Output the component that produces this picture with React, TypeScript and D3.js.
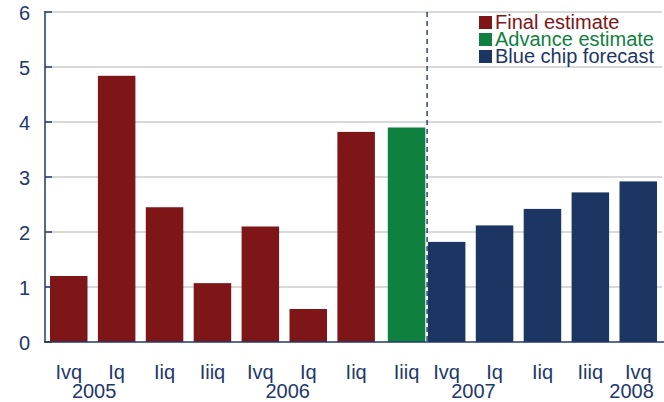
import React from "react";
import * as d3 from "d3";

const quarters = ["Ivq", "Iq", "Iiq", "Iiiq", "Ivq", "Iq", "Iiq", "Iiiq", "Ivq", "Iq", "Iiq", "Iiiq", "Ivq"];
const values = [1.2, 4.84, 2.45, 1.07, 2.1, 0.6, 3.82, 3.9, 1.82, 2.12, 2.42, 2.72, 2.92];
const seriesOf = ["final", "final", "final", "final", "final", "final", "final", "advance", "forecast", "forecast", "forecast", "forecast", "forecast"];
const seriesNames = ["Final estimate", "Advance estimate", "Blue chip forecast"];
const seriesKeys = ["final", "advance", "forecast"];
const seriesColors = ["#7E1517", "#10803F", "#1C3664"];
const years = ["2005", "2006", "2007", "2008"];
const yearPos = [0.53, 4.57, 8.56, 11.86];
const yTicks = [0, 1, 2, 3, 4, 5, 6];

const W = 664;
const H = 402;
const left = 44.8;
const step = 47.9;
const top = 12;
const bottom = 342;
const textColor = "#22386A";
const axisColor = "#1F3A6B";
const offsets: Record<string, number> = { final: 0, advance: 2.5, forecast: -5.3 };

export default function App() {
  const idx = quarters.map((_, i) => i);
  const x = d3
    .scaleBand<number>()
    .domain(idx)
    .range([left, left + step * quarters.length])
    .paddingInner(0.217)
    .paddingOuter(0.1085);
  const y = d3.scaleLinear().domain([0, 6]).range([bottom, top]);
  const bw = x.bandwidth();
  const color = d3.scaleOrdinal<string, string>().domain(seriesKeys).range(seriesColors);
  const cx = (i: number) => (x(i) as number) + bw / 2 + offsets[seriesOf[i]];
  const divider = (x(8) as number) + offsets["forecast"] - 0.8;
  const font = "'Liberation Sans', Arial, sans-serif";

  return (
    <svg
      width={W}
      height={H}
      style={{ position: "absolute", left: 0, top: 0, background: "#fff" }}
      fontFamily={font}
    >
      {yTicks
        .filter((t) => t > 0)
        .map((t) => (
          <line key={"g" + t} x1={45} x2={662} y1={y(t)} y2={y(t)} stroke="#cccccc" strokeWidth={1.5} />
        ))}
      {values.map((v, i) => (
        <rect
          key={"b" + i}
          x={(x(i) as number) + offsets[seriesOf[i]]}
          y={y(v)}
          width={bw}
          height={y(0) - y(v)}
          fill={color(seriesOf[i])}
        />
      ))}
      <line x1={divider} x2={divider} y1={top} y2={bottom} stroke={axisColor} strokeWidth={1.4} strokeDasharray="5,4" />
      <line x1={45} x2={45} y1={top - 1} y2={bottom} stroke={axisColor} strokeWidth={1.5} />
      <line x1={44} x2={664} y1={bottom} y2={bottom} stroke={axisColor} strokeWidth={1.5} />
      {yTicks.map((t) => (
        <g key={"t" + t}>
          <line x1={45} x2={52} y1={y(t)} y2={y(t)} stroke={axisColor} strokeWidth={1.5} />
          <text x={30} y={y(t) + 8} textAnchor="end" fontSize={20} fill={textColor}>
            {t}
          </text>
        </g>
      ))}
      {quarters.map((q, i) => (
        <text key={"q" + i} x={cx(i)} y={379} textAnchor="middle" fontSize={20} fill={textColor}>
          {q}
        </text>
      ))}
      {years.map((yr, k) => {
        const p = yearPos[k];
        const lo = Math.floor(p);
        const hi = Math.min(lo + 1, quarters.length - 1);
        const f = p - lo;
        const xx = cx(lo) * (1 - f) + cx(hi) * f;
        return (
          <text key={"y" + yr} x={xx} y={398} textAnchor="middle" fontSize={20} fill={textColor}>
            {yr}
          </text>
        );
      })}
      {seriesNames.map((n, k) => (
        <g key={"l" + k}>
          <rect x={479} y={16 + k * 17} width={13} height={13} fill={seriesColors[k]} />
          <text x={495} y={29 + k * 17} fontSize={20} fill={seriesColors[k]}>
            {n}
          </text>
        </g>
      ))}
    </svg>
  );
}
